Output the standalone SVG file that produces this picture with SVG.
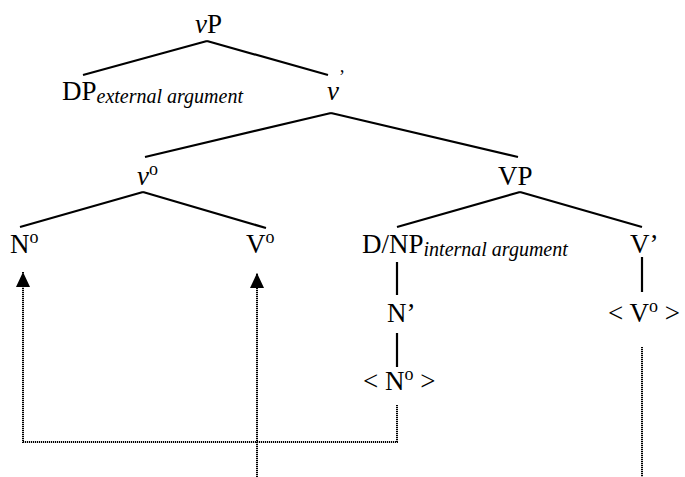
<svg xmlns="http://www.w3.org/2000/svg" width="685" height="477" viewBox="0 0 685 477">
<defs>
<style>
text{font-family:"Liberation Serif","Times New Roman",serif;font-size:27px;fill:#000}
.i{font-style:italic}
.sub{font-style:italic;font-size:20px}
.sup{font-size:18px}
.tree{stroke:#000;stroke-width:2.2;fill:none;stroke-linecap:butt}
.mv{stroke:#000;stroke-width:2;fill:none;stroke-dasharray:1.2 0.8}
</style>
<marker id="ah" viewBox="0 0 15 14" refX="15" refY="7" markerWidth="15" markerHeight="14" markerUnits="userSpaceOnUse" orient="auto">
<path d="M0,0 L15,7 L0,14 z" fill="#000"/>
</marker>
</defs>
<rect width="685" height="477" fill="#fff"/>
<g id="connectors">
<g class="tree">
<path d="M207,41 L83,75 M207,41 L328,75"/>
<path d="M331,113 L145,157 M331,113 L518,157"/>
<path d="M143,192 L20,227 M143,192 L266,228"/>
<path d="M520,192 L397,227 M520,192 L642,227"/>
<path d="M397,262 V295"/>
<path d="M642,257 V292"/>
<path d="M397,333 V367"/>
</g>
<path class="mv" d="M397,405 V442 H23 V272" marker-end="url(#ah)"/>
<path class="mv" d="M257,477 V273" marker-end="url(#ah)"/>
<path class="mv" d="M642,347 V477"/>
</g>
<g id="vP"><text x="195" y="33"><tspan class="i">v</tspan>P</text></g>
<g id="DP"><text x="62" y="100">DP<tspan class="sub" dy="3">external argument</tspan></text></g>
<g id="vbar"><text x="327" y="100"><tspan class="i">v</tspan><tspan class="sup" dy="-17">’</tspan></text></g>
<g id="v0"><text x="137" y="185"><tspan class="i">v</tspan><tspan class="sup" dy="-10">o</tspan></text></g>
<g id="VP"><text x="498" y="185">VP</text></g>
<g id="N0"><text x="10" y="253">N<tspan class="sup" dy="-10">o</tspan></text></g>
<g id="V0"><text x="246" y="253">V<tspan class="sup" dy="-10">o</tspan></text></g>
<g id="DNP"><text x="362" y="253">D/NP<tspan class="sub" dy="3">internal argument</tspan></text></g>
<g id="Vbar"><text x="630" y="253">V’</text></g>
<g id="Nbar"><text x="387" y="322">N’</text></g>
<g id="Vtrace"><text x="608" y="322">&lt; V<tspan class="sup" dy="-10">o</tspan><tspan dy="10"> &gt;</tspan></text></g>
<g id="Ntrace"><text x="363" y="390">&lt; N<tspan class="sup" dy="-10">o</tspan><tspan dy="10"> &gt;</tspan></text></g>
</svg>
